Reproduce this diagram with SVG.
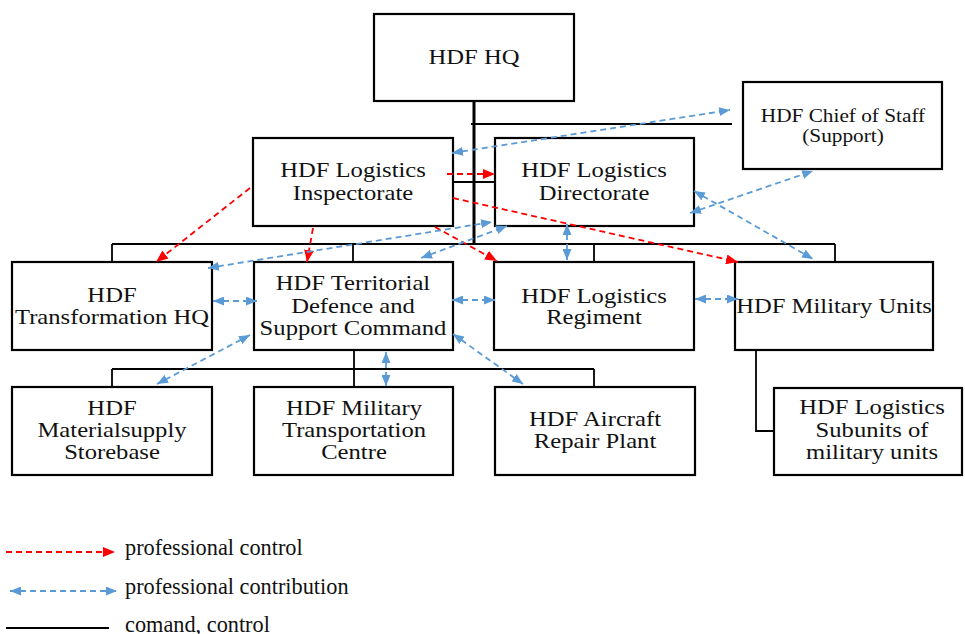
<svg xmlns="http://www.w3.org/2000/svg" width="965" height="634" viewBox="0 0 965 634">
<style>
.box{fill:#fff;stroke:#000;stroke-width:2.2}
text{font-family:'Liberation Serif','Times New Roman','DejaVu Serif',serif;fill:#111}
.t{font-size:22px;text-anchor:middle}
.ts{font-size:19px;text-anchor:middle}
.lg{font-size:22.3px}
.cmd{fill:none;stroke:#000;stroke-width:1.8}
.red{fill:none;stroke:#ff0000;stroke-width:1.8;stroke-dasharray:6 4;marker-end:url(#ar)}
.blue{fill:none;stroke:#5b9bd5;stroke-width:1.8;stroke-dasharray:6 4;marker-start:url(#ab);marker-end:url(#ab)}
</style>
<defs>
<marker id="ar" viewBox="0 0 12 10" refX="12" refY="5" markerWidth="12" markerHeight="10" markerUnits="userSpaceOnUse" orient="auto-start-reverse"><path d="M0,0 L12,5 L0,10 z" fill="#ff0000"/></marker>
<marker id="ab" viewBox="0 0 11 9" refX="11" refY="4.5" markerWidth="11" markerHeight="9" markerUnits="userSpaceOnUse" orient="auto-start-reverse"><path d="M0,0 L11,4.5 L0,9 z" fill="#5b9bd5"/></marker>
</defs>
<rect width="965" height="634" fill="#fff"/>
<g id="command-lines">
<path class="cmd" d="M474,101 V244" style="stroke-width:3"/>
<path class="cmd" d="M471,124 H732"/>
<path class="cmd" d="M453,182 H495"/>
<path class="cmd" d="M112,244 H835 M112,244 V262 M353,244 V262 M594,244 V262 M835,244 V262"/>
<path class="cmd" d="M354,350 V387 M112,369 H594 M112,369 V387 M594,369 V387"/>
<path class="cmd" d="M756,350 V431 H774"/>
</g>
<g id="hq"><rect class="box" x="374" y="14" width="200" height="87"/>
<g transform="translate(474 0) scale(1.12 1)"><text class="t" x="0" y="64">HDF HQ</text></g></g>
<g id="chief"><rect class="box" x="743" y="82" width="199" height="87"/>
<g transform="translate(843 0) scale(1.12 1)"><text class="ts" x="0" y="122">HDF Chief of Staff</text><text class="ts" x="0" y="142">(Support)</text></g></g>
<g id="inspectorate"><rect class="box" x="253" y="138" width="200" height="88"/>
<g transform="translate(353 0) scale(1.12 1)"><text class="t" x="0" y="177">HDF Logistics</text><text class="t" x="0" y="200">Inspectorate</text></g></g>
<g id="directorate"><rect class="box" x="495" y="138" width="199" height="88"/>
<g transform="translate(594 0) scale(1.12 1)"><text class="t" x="0" y="177">HDF Logistics</text><text class="t" x="0" y="200">Directorate</text></g></g>
<g id="transformation"><rect class="box" x="12" y="262" width="200" height="88"/>
<g transform="translate(112 0) scale(1.12 1)"><text class="t" x="0" y="302">HDF</text><text class="t" x="0" y="324">Transformation HQ</text></g></g>
<g id="territorial"><rect class="box" x="254" y="262" width="199" height="88"/>
<g transform="translate(353 0) scale(1.12 1)"><text class="t" x="0" y="290">HDF Territorial</text><text class="t" x="0" y="313">Defence and</text><text class="t" x="0" y="335">Support Command</text></g></g>
<g id="regiment"><rect class="box" x="494" y="262" width="200" height="88"/>
<g transform="translate(594 0) scale(1.12 1)"><text class="t" x="0" y="303">HDF Logistics</text><text class="t" x="0" y="324">Regiment</text></g></g>
<g id="military-units"><rect class="box" x="735" y="262" width="198" height="88"/>
<g transform="translate(834 0) scale(1.12 1)"><text class="t" x="0" y="313">HDF Military Units</text></g></g>
<g id="materialsupply"><rect class="box" x="12" y="387" width="200" height="88"/>
<g transform="translate(112 0) scale(1.12 1)"><text class="t" x="0" y="415">HDF</text><text class="t" x="0" y="437">Materialsupply</text><text class="t" x="0" y="459">Storebase</text></g></g>
<g id="transportation"><rect class="box" x="254" y="387" width="199" height="88"/>
<g transform="translate(354 0) scale(1.12 1)"><text class="t" x="0" y="415">HDF Military</text><text class="t" x="0" y="437">Transportation</text><text class="t" x="0" y="459">Centre</text></g></g>
<g id="aircraft"><rect class="box" x="495" y="387" width="200" height="88"/>
<g transform="translate(595 0) scale(1.12 1)"><text class="t" x="0" y="426">HDF Aircraft</text><text class="t" x="0" y="448">Repair Plant</text></g></g>
<g id="subunits"><rect class="box" x="774" y="388" width="188" height="87"/>
<g transform="translate(872 0) scale(1.12 1)"><text class="t" x="0" y="414">HDF Logistics</text><text class="t" x="0" y="437">Subunits of</text><text class="t" x="0" y="459">military units</text></g></g>
<g id="connectors">
<path class="red" d="M447,174 L495,174"/>
<path class="red" d="M250,188 L156,262"/>
<path class="red" d="M313,228 L307,262"/>
<path class="red" d="M435,227 L497,261"/>
<path class="red" d="M453,198 L738,262"/>
<path class="blue" d="M452,153 L730,110"/>
<path class="blue" d="M208,268 L492,222"/>
<path class="blue" d="M421,258 L507,226"/>
<path class="blue" d="M567,224 L567,260"/>
<path class="blue" d="M694,191 L813,259"/>
<path class="blue" d="M690,213 L813,171"/>
<path class="blue" d="M213,301 L257,301"/>
<path class="blue" d="M452,300 L495,300"/>
<path class="blue" d="M695,299 L738,299"/>
<path class="blue" d="M250,335 L157,384"/>
<path class="blue" d="M386,352 L386,386"/>
<path class="blue" d="M453,334 L523,384"/>
</g>
<g id="legend">
<path class="red" d="M6,552 L115,552"/>
<text class="lg" x="125" y="555">professional control</text>
<path class="blue" d="M10,591 L117,591"/>
<text class="lg" x="125" y="594">professional contribution</text>
<path class="cmd" d="M6,628 H109"/>
<text class="lg" x="125" y="632">comand, control</text>
</g>
</svg>
